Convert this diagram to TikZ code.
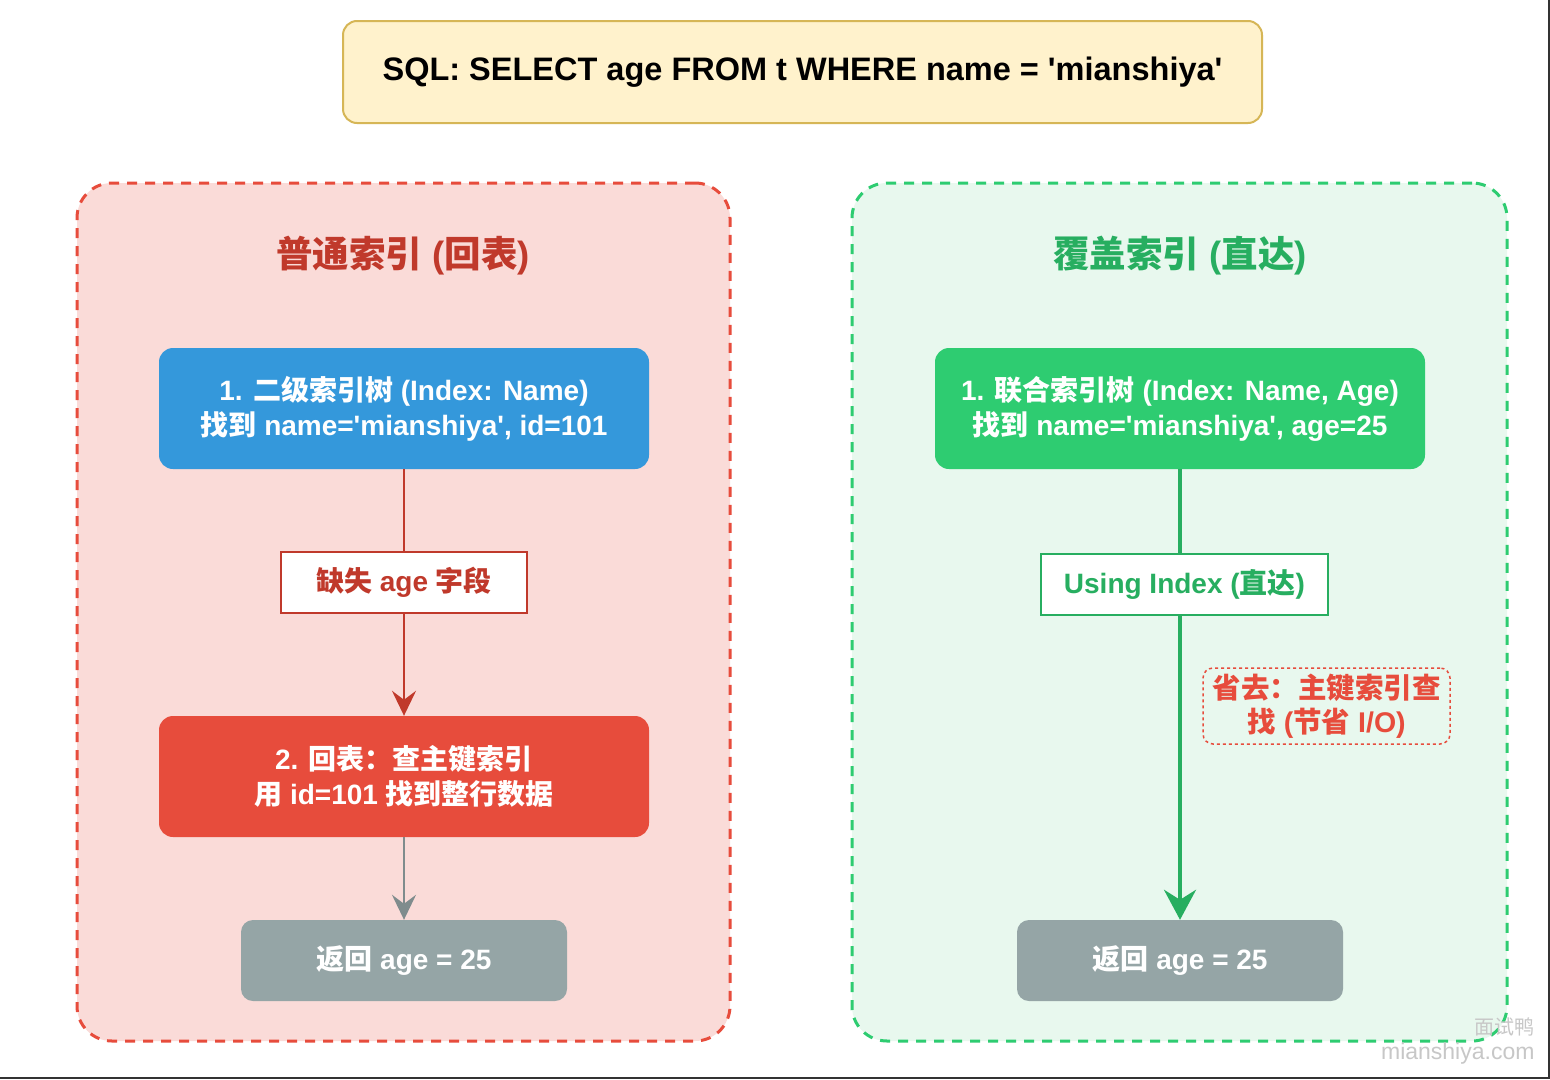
\documentclass[tikz,border=0pt]{standalone}
\usepackage{fontspec}
\setmainfont{Liberation Sans}[Ligatures=TeXOff]
\newfontfamily\cjk{Noto Sans CJK SC}
\newcommand{\C}[1]{{\cjk #1}}
\usetikzlibrary{arrows.meta}
\definecolor{sqlfill}{HTML}{FFF2CC}
\definecolor{sqldraw}{HTML}{D6B656}
\definecolor{lfill}{HTML}{FADBD8}
\definecolor{ldash}{HTML}{E74C3C}
\definecolor{rfill}{HTML}{E8F8EE}
\definecolor{rdash}{HTML}{2ECC71}
\definecolor{dred}{HTML}{C0392B}
\definecolor{dgreen}{HTML}{27AE60}
\definecolor{cblue}{HTML}{3498DB}
\definecolor{cred}{HTML}{E74C3C}
\definecolor{cgreen}{HTML}{2ECC71}
\definecolor{cgray}{HTML}{95A5A6}
\definecolor{agray}{HTML}{7F8C8D}
\tikzset{
  container/.style={draw, line width=3pt, dash pattern=on 10pt off 8pt, rounded corners=35pt, inner sep=0pt},
  stepbox/.style={rounded corners=14pt, text=white, align=center, inner sep=0pt,
    minimum width=490pt, minimum height=121pt, font=\bfseries\fontsize{28}{35}\selectfont},
  graybox/.style={rounded corners=12pt, fill=cgray, text=white, align=center, inner sep=0pt,
    minimum width=326pt, minimum height=81pt, font=\bfseries\fontsize{28}{32}\selectfont},
  labelbox/.style={fill=white, draw, line width=2pt, inner sep=0pt, minimum height=61pt,
    font=\bfseries\fontsize{28}{32}\selectfont},
  titletext/.style={font=\bfseries\fontsize{36.5}{42}\selectfont},
}
\begin{document}
\begin{tikzpicture}[x=1pt,y=-1pt]
\useasboundingbox[fill=white] (0,0) rectangle (1550,1079);

% SQL box
\node[draw=sqldraw, fill=sqlfill, line width=2pt, rounded corners=14pt, minimum width=919pt, minimum height=102pt, inner sep=0pt,
  font=\bfseries\fontsize{32.5}{38}\selectfont] (sql) at (802.5,72) {SQL: SELECT age FROM t WHERE name = 'mianshiya'};

% containers
\node[container, draw=ldash, fill=lfill, minimum width=653pt, minimum height=858pt] (leftc) at (403.5,612) {};
\node[container, draw=rdash, fill=rfill, minimum width=655pt, minimum height=858pt] (rightc) at (1179.5,612) {};

% titles
\node[titletext, text=dred] (ltitle) at (403,256) {\C{普通索引} (\C{回表})};
\node[titletext, text=dgreen] (rtitle) at (1180,256) {\C{覆盖索引} (\C{直达})};

% left flow
\node[stepbox, fill=cblue] (blue) at (404,408.5) {1. \C{二级索引树} (Index: Name)\\\C{找到} name='mianshiya', id=101};
\node[labelbox, draw=dred, text=dred, minimum width=246pt] (lmiss) at (404,582.5) {\C{缺失} age \C{字段}};
\node[stepbox, fill=cred] (redb) at (404,776.5) {2. \C{回表：查主键索引}\\\C{用} id=101 \C{找到整行数据}};
\node[graybox] (lgray) at (404,960.5) {\C{返回} age = 25};

\draw[dred, line width=2.5pt] (blue.south) -- (lmiss.north);
\draw[dred, line width=2.5pt, -{Stealth[length=25pt,width=24pt,inset=9pt]}] (lmiss.south) -- (redb.north);
\draw[agray, line width=2.5pt, -{Stealth[length=25pt,width=24pt,inset=9pt]}] (redb.south) -- (lgray.north);

% right flow
\node[stepbox, fill=cgreen] (green) at (1180,408.5) {1. \C{联合索引树} (Index: Name, Age)\\\C{找到} name='mianshiya', age=25};
\node[labelbox, draw=dgreen, text=dgreen, minimum width=287pt] (using) at (1184.5,584.5) {Using Index (\C{直达})};
\node[draw=cred, dashed, line width=1.5pt, rounded corners=10pt, minimum width=247pt, minimum height=76pt, inner sep=0pt,
  text=cred, align=center, font=\bfseries\fontsize{28.5}{34}\selectfont] (note) at (1326.5,706) {\C{省去：主键索引查}\\\C{找} (\C{节省} I/O)};
\node[graybox] (rgray) at (1180,960.5) {\C{返回} age = 25};

\draw[dgreen, line width=4pt] (green.south) -- (green.south |- using.north);
\draw[dgreen, line width=4pt, -{Stealth[length=30pt,width=32pt,inset=10pt]}] (using.south -| green.south) -- (rgray.north);

% watermark
\node[text=black!22, font=\cjk\fontsize{20}{22}\selectfont, anchor=east] (wm1) at (1538,1027) {面试鸭};
\node[text=black!22, font=\fontsize{23}{26}\selectfont, anchor=east] (wm2) at (1538,1054) {mianshiya.com};

% screenshot edges
\draw[black!80, line width=2pt] (1549,0) -- (1549,1079);
\draw[black!80, line width=2pt] (0,1078) -- (1550,1078);
\end{tikzpicture}
\end{document}
